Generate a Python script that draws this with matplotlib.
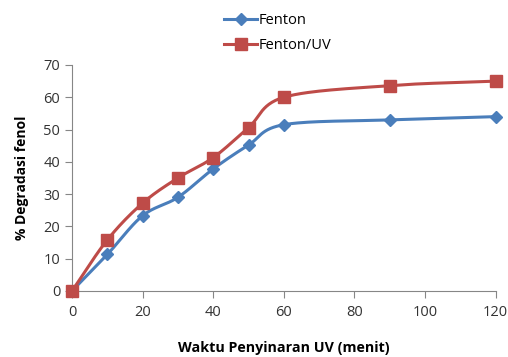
import matplotlib
matplotlib.use('Agg')
import matplotlib.pyplot as plt
import numpy as np

plt.rcParams['font.family'] = ['Open Sans', 'DejaVu Sans']

waktu = [0, 10, 20, 30, 40, 50, 60, 90, 120]
fenton = [0, 11.3, 23.3, 29.0, 37.8, 45.2, 51.5, 53.0, 54.0]
fenton_uv = [0, 15.8, 27.2, 35.0, 41.3, 50.6, 60.0, 63.6, 65.0]


def smooth(x, y, n=30):
    # catmull-rom curve through the points, like a smoothed line in a spreadsheet
    x = np.asarray(x, float)
    y = np.asarray(y, float)
    px = np.concatenate([[2 * x[0] - x[1]], x, [2 * x[-1] - x[-2]]])
    py = np.concatenate([[2 * y[0] - y[1]], y, [2 * y[-1] - y[-2]]])
    xs, ys = [], []
    t = np.linspace(0, 1, n)
    for i in range(1, len(px) - 2):
        for p, out in ((px, xs), (py, ys)):
            p0, p1, p2, p3 = p[i - 1], p[i], p[i + 1], p[i + 2]
            m1 = (p2 - p0) / 6
            m2 = (p3 - p1) / 6
            c = (p1 * (1 - t) ** 3 + 3 * (p1 + m1) * t * (1 - t) ** 2
                 + 3 * (p2 - m2) * t ** 2 * (1 - t) + p2 * t ** 3)
            out.extend(c)
    return np.array(xs), np.array(ys)


fig = plt.figure(figsize=(5.08, 3.57), dpi=100)
ax = fig.add_axes([0.1417, 0.185, 0.834, 0.633])

blue = '#4A7EBB'
red = '#BE4B48'

sx, sy = smooth(waktu, fenton)
ax.plot(sx, sy, color=blue, lw=2.2, zorder=2)
ax.plot(waktu, fenton, ls='none', marker='D', ms=6.5, color=blue, zorder=3)
sx, sy = smooth(waktu, fenton_uv)
ax.plot(sx, sy, color=red, lw=2.2, zorder=2)
ax.plot(waktu, fenton_uv, ls='none', marker='s', ms=8.5, color=red, zorder=3)

# legend entries
h1, = ax.plot([], [], color=blue, lw=2.2, marker='D', ms=6.5)
h2, = ax.plot([], [], color=red, lw=2.2, marker='s', ms=8.5)
fig.legend([h1, h2], ['Fenton', 'Fenton/UV'], loc='upper left',
           bbox_to_anchor=(0.415, 1.0), frameon=False, fontsize=10.5,
           handlelength=2.3, handletextpad=0.1, labelspacing=0.7)

ax.set_xlim(0, 120)
ax.set_ylim(0, 70)
ax.set_xticks(range(0, 121, 20))
ax.set_yticks(range(0, 71, 10))
for s in ['top', 'right']:
    ax.spines[s].set_visible(False)
for s in ['left', 'bottom']:
    ax.spines[s].set_color('#868686')
ax.tick_params(colors='#868686', labelcolor='#333333', labelsize=10.5, length=5)
ax.tick_params(axis='x', pad=5)
ax.set_xlabel('Waktu Penyinaran UV (menit)', fontsize=10.3, fontweight='bold', labelpad=15)
ax.set_ylabel('% Degradasi fenol', fontsize=10, fontweight='bold', labelpad=10)
for c in ax.lines:
    c.set_clip_on(False)

fig.savefig('out.png', dpi=100)
